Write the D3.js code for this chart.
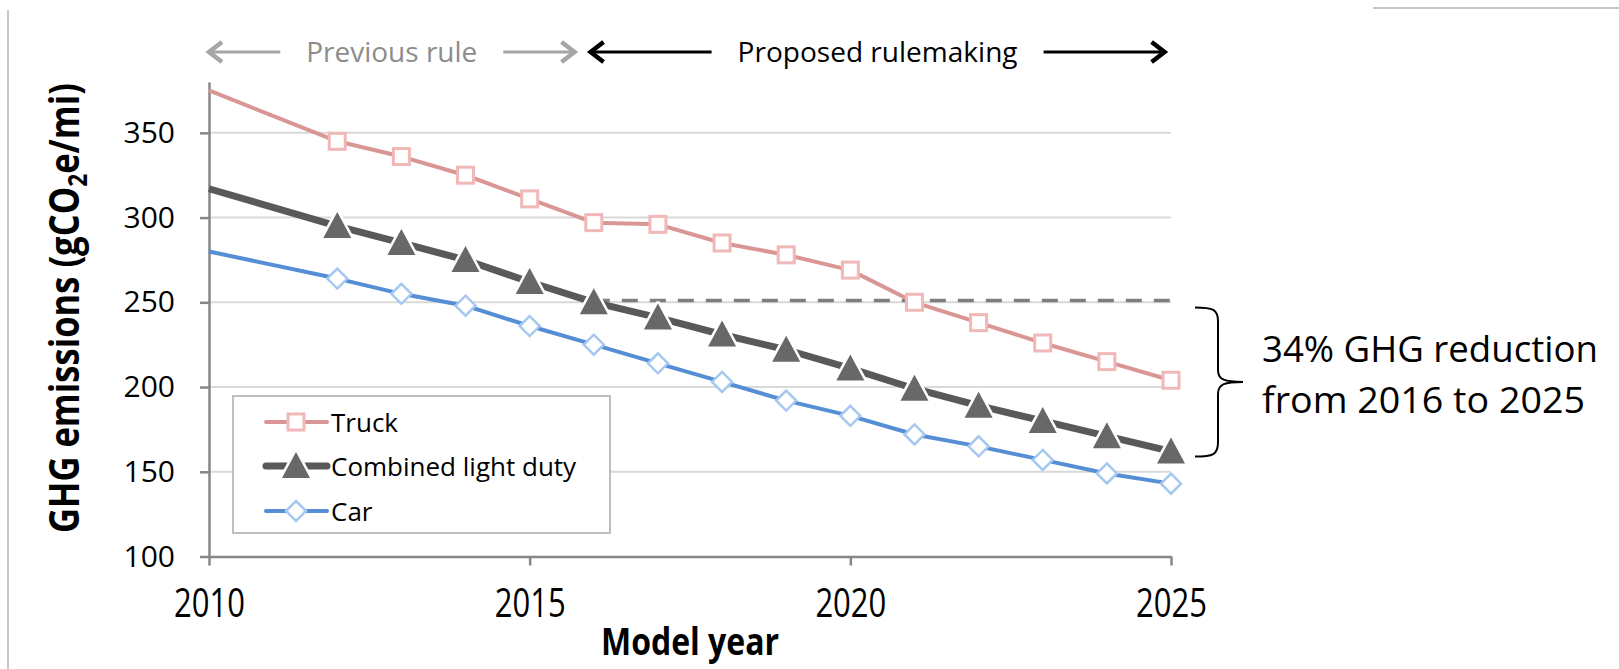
<!DOCTYPE html>
<html>
<head>
<meta charset="utf-8">
<script src="https://cdn.jsdelivr.net/npm/d3@7"></script>
<style>
  body { margin: 0; background: #fff; }
  svg { display: block; font-family: 'Open Sans', sans-serif; }
</style>
</head>
<body>
<div id="chart"></div>
<script>
// values
const years = [2010, 2012, 2013, 2014, 2015, 2016, 2017, 2018, 2019, 2020, 2021, 2022, 2023, 2024, 2025]
const truck = [375, 345, 336, 325, 311, 297, 296, 285, 278, 269, 250, 238, 226, 215, 204]
const combined = [317, 295, 285, 275, 262, 250, 241, 231, 222, 211, 199, 189, 180, 171, 162]
const car = [280, 264, 255, 248, 236, 225, 214, 203, 192, 183, 172, 165, 157, 149, 143]
const seriesNames = ['Truck', 'Combined light duty', 'Car']
const yTicks = [100, 150, 200, 250, 300, 350]
const xTicks = [2010, 2015, 2020, 2025]
const yMax = 380
const refYear = 2016
const refValue = 251
const braceValues = [247, 159]
const periods = [
  { label: 'Previous rule', from: 2010, to: 2015.7, color: '#a6a6a6', text: '#8c8c8c', width: 171 },
  { label: 'Proposed rulemaking', from: 2015.95, to: 2024.9, color: '#000', text: '#000', width: 280 }
]
const noteLines = ['34% GHG reduction', 'from 2016 to 2025']
const noteWidths = [336, 323]

let width = 1619
let height = 669
let plot = { left: 209, right: 1171, top: 82, bottom: 556.5 }

let svg = d3.select('#chart')
  .append('svg')
  .attr('width', width)
  .attr('height', height)

let x = d3.scaleLinear().domain([2010, 2025]).range([plot.left, plot.right])
let y = d3.scaleLinear().domain([100, yMax]).range([plot.bottom, plot.top])

function fit(sel, w) {
  sel.attr('textLength', w).attr('lengthAdjust', 'spacingAndGlyphs')
}

// slide edges
svg.append('line').attr('x1', 8).attr('x2', 8).attr('y1', 10).attr('y2', height)
  .attr('stroke', '#c8c8c8').attr('stroke-width', 2)
svg.append('line').attr('x1', 1373).attr('x2', width).attr('y1', 8).attr('y2', 8)
  .attr('stroke', '#c8c8c8').attr('stroke-width', 2)

// gridlines
svg.append('g')
  .selectAll('line')
  .data(yTicks.filter(d => d > 100))
  .enter()
  .append('line')
  .attr('x1', plot.left)
  .attr('x2', plot.right)
  .attr('y1', d => y(d))
  .attr('y2', d => y(d))
  .attr('stroke', '#d9d9d9')
  .attr('stroke-width', 2)

// axes
let yAxis = d3.axisLeft(y).tickValues(yTicks).tickSize(9).tickSizeOuter(0).tickPadding(25)
let yg = svg.append('g')
  .attr('transform', `translate(${plot.left},0)`)
  .call(yAxis)
yg.selectAll('path, line').attr('stroke', '#868686').attr('stroke-width', 2.5)
yg.selectAll('text').attr('font-size', 30).attr('font-family', 'Open Sans').attr('fill', '#000')

let xAxis = d3.axisBottom(x).tickValues(xTicks).tickFormat(d3.format('d')).tickSize(9).tickSizeOuter(0)
let xg = svg.append('g')
  .attr('transform', `translate(0,${plot.bottom})`)
  .call(xAxis)
xg.selectAll('path, line').attr('stroke', '#868686').attr('stroke-width', 2.5)
xg.selectAll('text')
  .attr('y', 0)
  .attr('dy', 0)
  .attr('transform', 'translate(0,60) scale(1,1.3)')
  .attr('font-size', 31)
  .attr('font-family', 'Open Sans')
  .attr('fill', '#000')

// axis titles
let yTitle = svg.append('text')
  .attr('transform', 'translate(79,308) rotate(-90)')
  .attr('text-anchor', 'middle')
  .attr('font-size', 41)
  .attr('font-weight', 'bold')
yTitle.append('tspan').text('GHG emissions (gCO')
yTitle.append('tspan').text('2').attr('font-size', 27).attr('dy', 8)
yTitle.append('tspan').text('e/mi)').attr('dy', -8)
fit(yTitle, 450)

svg.append('text')
  .attr('transform', `translate(${(plot.left + plot.right) / 2},655) scale(1,1.15)`)
  .attr('text-anchor', 'middle')
  .attr('font-size', 33)
  .attr('font-weight', 'bold')
  .text('Model year')
  .call(fit, 178)

// reference dashed line
svg.append('line')
  .attr('x1', x(refYear))
  .attr('x2', x(2025))
  .attr('y1', y(refValue))
  .attr('y2', y(refValue))
  .attr('stroke', '#7f7f7f')
  .attr('stroke-width', 3.5)
  .attr('stroke-dasharray', '16,12')

// series
let line = d3.line()
  .x((d, i) => x(years[i]))
  .y(d => y(d))

let styles = [
  { values: truck, color: '#d99694', width: 4, marker: 'square', mstroke: '#f0b8b7' },
  { values: combined, color: '#595959', width: 7, marker: 'triangle', mstroke: '#fff' },
  { values: car, color: '#558ed5', width: 4, marker: 'diamond', mstroke: '#a6c8f0' }
]

function drawMarker(g, type, s) {
  if (type === 'square') {
    g.append('rect')
      .attr('x', -8).attr('y', -8).attr('width', 16).attr('height', 16)
      .attr('fill', '#fff').attr('stroke', s.mstroke).attr('stroke-width', 3)
  } else if (type === 'triangle') {
    g.append('path')
      .attr('d', 'M0,-14L14,12L-14,12Z')
      .attr('fill', '#686868')
      .attr('stroke', '#fff')
      .attr('stroke-width', 5)
      .attr('stroke-linejoin', 'round')
      .attr('paint-order', 'stroke')
  } else {
    g.append('path')
      .attr('d', 'M0,-10L10,0L0,10L-10,0Z')
      .attr('fill', '#fff').attr('stroke', s.mstroke).attr('stroke-width', 2.5)
  }
}

styles.forEach(s => {
  svg.append('path')
    .datum(s.values)
    .attr('d', line)
    .attr('fill', 'none')
    .attr('stroke', s.color)
    .attr('stroke-width', s.width)
    .attr('stroke-linejoin', 'round')

  svg.append('g')
    .selectAll('g')
    .data(s.values.slice(1))
    .enter()
    .append('g')
    .attr('transform', (d, i) => `translate(${x(years[i + 1])},${y(d)})`)
    .each(function() { drawMarker(d3.select(this), s.marker, s) })
})

// legend
let legend = svg.append('g')
legend.append('rect')
  .attr('x', 233).attr('y', 396).attr('width', 377).attr('height', 137)
  .attr('fill', '#fff').attr('stroke', '#bfbfbf').attr('stroke-width', 2)

let legendRows = [422, 466, 511]
seriesNames.forEach((name, i) => {
  let s = styles[i]
  let row = legend.append('g').attr('transform', `translate(0,${legendRows[i]})`)
  row.append('line')
    .attr('x1', 266).attr('x2', 327).attr('y1', 0).attr('y2', 0)
    .attr('stroke', s.color).attr('stroke-width', s.width).attr('stroke-linecap', 'round')
  let m = row.append('g').attr('transform', 'translate(296,0)')
  drawMarker(m, s.marker, s)
  row.append('text')
    .attr('x', 331)
    .attr('y', 10)
    .attr('font-size', 26)
    .text(name)
})

// period arrows at top
periods.forEach(p => {
  let x0 = x(p.from)
  let x1 = x(p.to)
  let cx = (x0 + x1) / 2
  let ay = 52
  let t = svg.append('text')
    .attr('x', cx)
    .attr('y', 62)
    .attr('text-anchor', 'middle')
    .attr('font-size', 28)
    .attr('fill', p.text)
    .text(p.label)
    .call(fit, p.width)
  let tw = p.width
  let gap = 26
  let g = svg.append('g')
    .attr('stroke', p.color)
    .attr('fill', 'none')
    .attr('stroke-width', 3)
  g.append('line').attr('x1', x0 + 2).attr('x2', cx - tw / 2 - gap).attr('y1', ay).attr('y2', ay)
  g.append('line').attr('x1', cx + tw / 2 + gap).attr('x2', x1 - 2).attr('y1', ay).attr('y2', ay)
  g.append('path')
    .attr('d', `M${x0 + 13},${ay - 10}L${x0},${ay}L${x0 + 13},${ay + 10}`)
    .attr('stroke-width', 4.5)
  g.append('path')
    .attr('d', `M${x1 - 13},${ay - 10}L${x1},${ay}L${x1 - 13},${ay + 10}`)
    .attr('stroke-width', 4.5)
})

// brace and note
let bTop = y(braceValues[0])
let bBot = y(braceValues[1])
let bMid = (bTop + bBot) / 2
let bx = 1195
svg.append('path')
  .attr('d', `M${bx},${bTop} C${bx + 18},${bTop} ${bx + 23},${bTop + 2} ${bx + 23},${bTop + 14}
    L${bx + 23},${bMid - 12} C${bx + 23},${bMid - 2} ${bx + 30},${bMid} ${bx + 48},${bMid}
    C${bx + 30},${bMid} ${bx + 23},${bMid + 2} ${bx + 23},${bMid + 12}
    L${bx + 23},${bBot - 14} C${bx + 23},${bBot - 2} ${bx + 18},${bBot} ${bx},${bBot}`)
  .attr('fill', 'none')
  .attr('stroke', '#000')
  .attr('stroke-width', 2)

svg.append('g')
  .selectAll('text')
  .data(noteLines)
  .enter()
  .append('text')
  .attr('x', 1262)
  .attr('y', (d, i) => 362 + i * 51)
  .attr('font-size', 37)
  .attr('textLength', (d, i) => noteWidths[i])
  .attr('lengthAdjust', 'spacingAndGlyphs')
  .text(d => d)
</script>
</body>
</html>
